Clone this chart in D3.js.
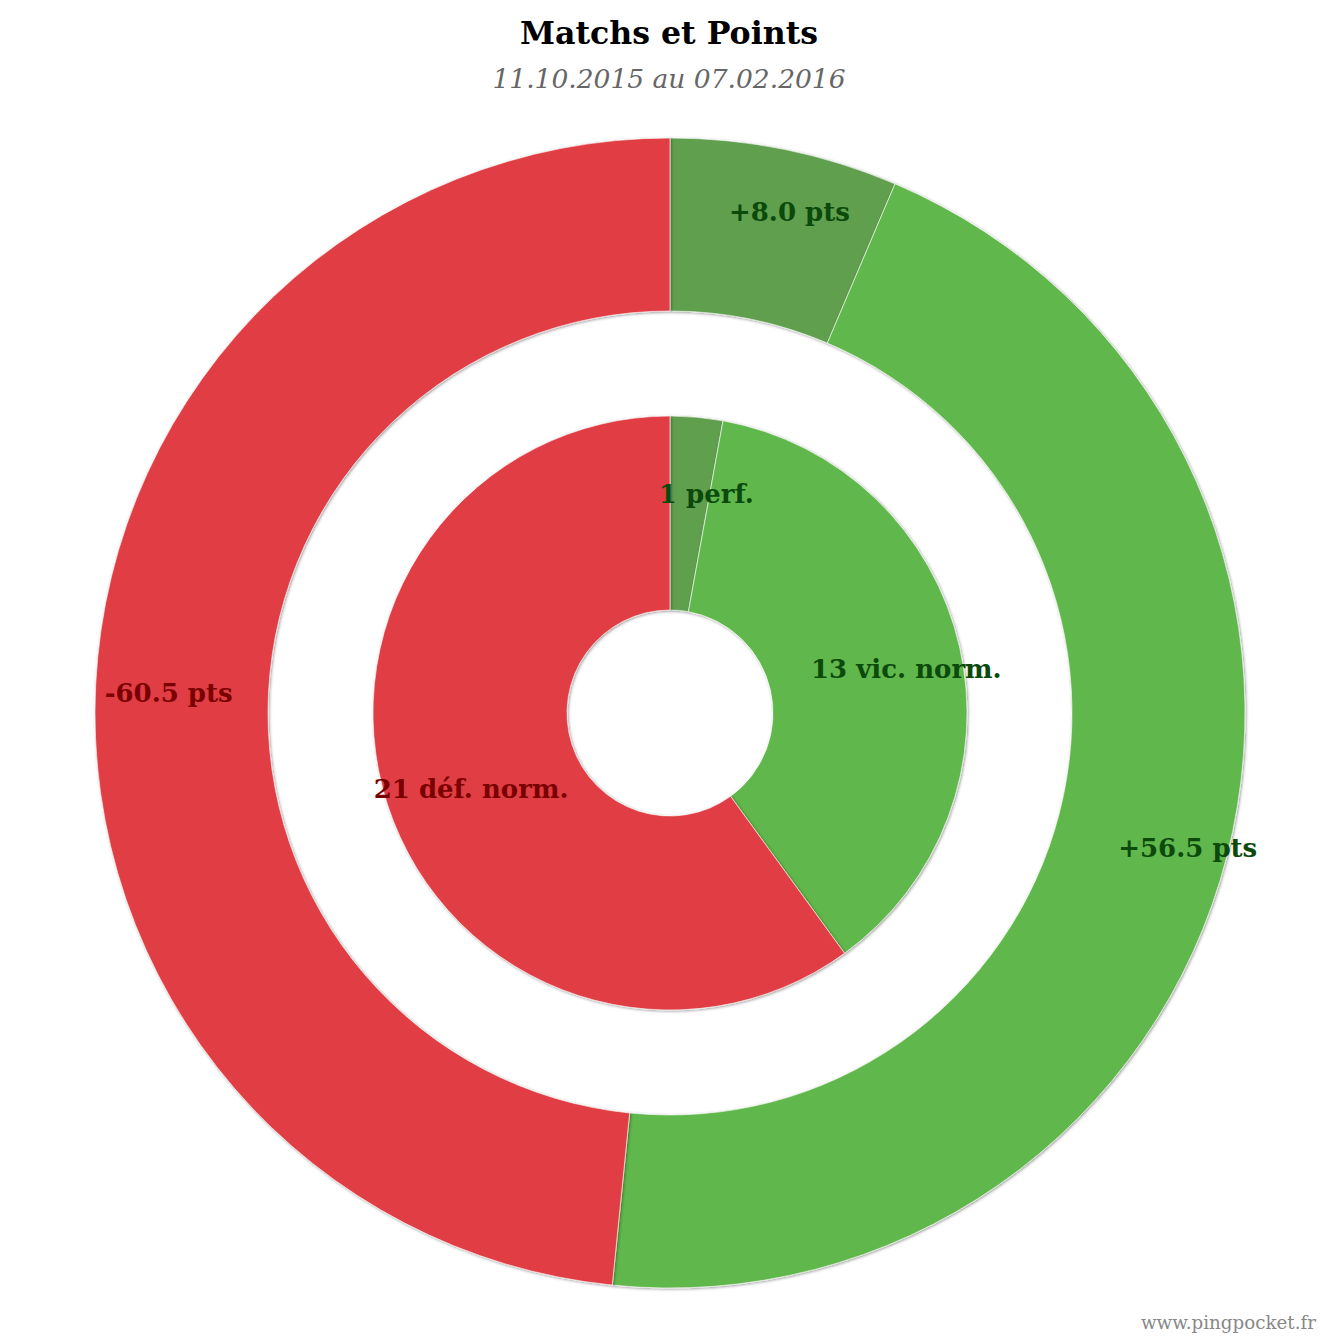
<!DOCTYPE html>
<html><head><meta charset="utf-8">
<script src="https://cdn.jsdelivr.net/npm/d3@7"></script>
<style>html,body{margin:0;padding:0;background:#fff;}svg{display:block;}</style>
</head><body>
<script>
const matchLabels = ["1 perf.", "13 vic. norm.", "21 déf. norm."];
const matchValues = [1, 13, 21];
const pointLabels = ["+8.0 pts", "+56.5 pts", "-60.5 pts"];
const pointValues = [8.0, 56.5, 60.5];
const sliceColors = ["#609f4e", "#60b74b", "#e03e45"];
const labelColors = ["#0b4a0b", "#0b4a0b", "#7a0000"];
const title = "Matchs et Points";
const subtitle = "11.10.2015 au 07.02.2016";
const credit = "www.pingpocket.fr";

const W = 1338, H = 1338, cx = 670, cy = 713;
const svg = d3.select("body").append("svg").attr("width", W).attr("height", H);
const defs = svg.append("defs");
const f = defs.append("filter").attr("id","sh").attr("x","-10%").attr("y","-10%").attr("width","120%").attr("height","120%");
f.append("feDropShadow").attr("dx",1).attr("dy",1).attr("stdDeviation",1.8).attr("flood-color","#000").attr("flood-opacity",0.4);

svg.append("text").attr("x", 669).attr("y", 44).attr("text-anchor","middle")
  .attr("font-family","DejaVu Serif").attr("font-weight","bold").attr("font-size",31.6).attr("fill","#000").text(title);
svg.append("text").attr("x", 669).attr("y", 88).attr("text-anchor","middle")
  .attr("font-family","DejaVu Serif").attr("font-style","italic").attr("font-size",26.5).attr("fill","#666").text(subtitle);
svg.append("text").attr("x", 1316).attr("y", 1329).attr("text-anchor","end")
  .attr("font-family","DejaVu Serif").attr("font-size",18.3).attr("fill","#888").text(credit);

const pie = d3.pie().sort(null).value(d => d);
const g = svg.append("g").attr("transform", `translate(${cx},${cy})`);

function ring(values, labels, r0, r1, rl) {
  const arcs = pie(values);
  const arc = d3.arc().innerRadius(r0).outerRadius(r1);
  const gr = g.append("g");
  gr.selectAll("path").data(arcs).join("path")
    .attr("d", arc).attr("fill", (d,i) => sliceColors[i])
    .attr("stroke", "#ffffff").attr("stroke-opacity", 0.6).attr("stroke-width", 1)
    .attr("filter", "url(#sh)");
  const la = d3.arc().innerRadius(rl).outerRadius(rl);
  gr.selectAll("text").data(arcs).join("text")
    .attr("transform", d => { const c = la.centroid(d); return `translate(${c[0] + 16},${c[1] + 6})`; })
    .attr("text-anchor","middle").attr("dy","0.35em")
    .attr("font-family","DejaVu Serif").attr("font-weight","bold").attr("font-size",26)
    .attr("fill", (d,i) => labelColors[i]).text((d,i) => labels[i]);
}
ring(pointValues, pointLabels, 402, 575, 518);
ring(matchValues, matchLabels, 103, 297, 226);
</script>
</body></html>
